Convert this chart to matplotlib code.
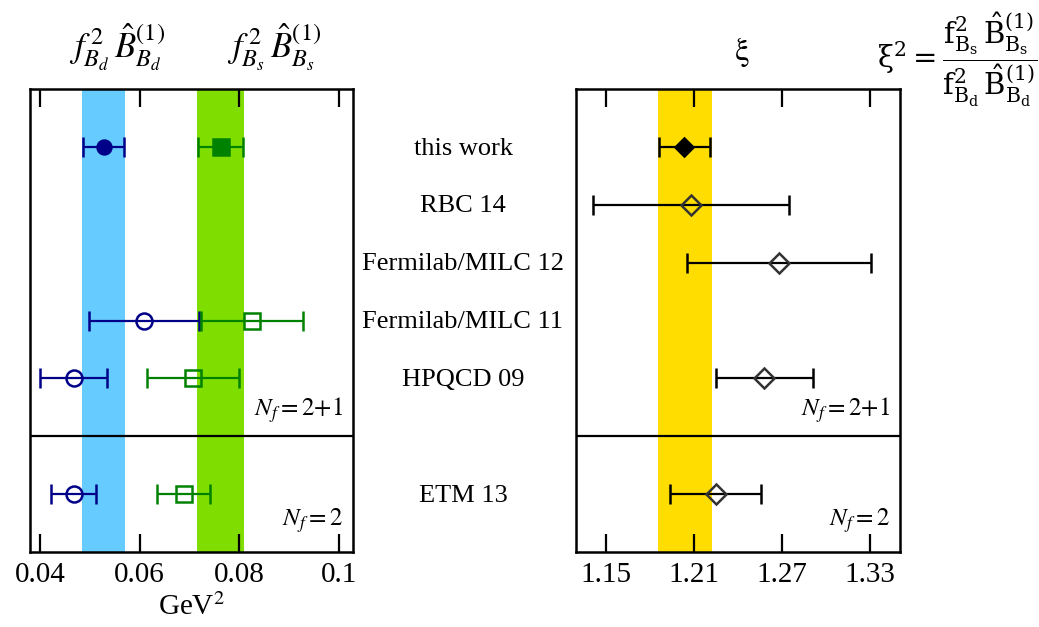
import matplotlib
matplotlib.use("Agg")
import matplotlib.pyplot as plt
from matplotlib.transforms import blended_transform_factory

plt.rcParams["font.family"] = ["Liberation Serif", "DejaVu Serif"]
plt.rcParams["mathtext.fontset"] = "stix"

# Collaborations, top to bottom (row 5 holds the Nf separator)
labels = ["this work", "RBC 14", "Fermilab/MILC 12", "Fermilab/MILC 11", "HPQCD 09", "ETM 13"]
label_rows = [0, 1, 2, 3, 4, 6]

# f_Bd^2 B_Bd^(1)  [GeV^2]: this work, Fermilab/MILC 11, HPQCD 09, ETM 13
bd_rows = [0, 3, 4, 6]
bd_val = [0.0528, 0.0609, 0.0468, 0.0468]
bd_err = [0.0041, 0.0110, 0.0067, 0.0045]

# f_Bs^2 B_Bs^(1)  [GeV^2]
bs_rows = [0, 3, 4, 6]
bs_val = [0.0763, 0.0826, 0.0707, 0.0688]
bs_err = [0.0045, 0.0102, 0.0092, 0.0053]

# xi: this work, RBC 14, Fermilab/MILC 12, HPQCD 09, ETM 13
xi_rows = [0, 1, 2, 4, 6]
xi_val = [1.2035, 1.208, 1.268, 1.258, 1.225]
xi_err = [0.0176, 0.067, 0.063, 0.033, 0.031]

# bands from this work (value, half-width)
bd_band = (0.0528, 0.0043)
bs_band = (0.0763, 0.0047)
xi_band = (1.2038, 0.0184)

left_ticks = [0.04, 0.06, 0.08, 0.1]
left_ticklabels = ["0.04", "0.06", "0.08", "0.1"]
right_ticks = [1.15, 1.21, 1.27, 1.33]
right_ticklabels = ["1.15", "1.21", "1.27", "1.33"]

W, H = 1039, 627
fig = plt.figure(figsize=(W / 100, H / 100), dpi=100)
fig.patch.set_facecolor("white")

ax1 = fig.add_axes([30 / W, 1 - 552 / H, 323 / W, 463 / H])
ax2 = fig.add_axes([576 / W, 1 - 552 / H, 324 / W, 463 / H])

blue = "#000088"
green = "#008200"
sep_row = 5

for ax in (ax1, ax2):
    ax.set_ylim(7, -1)
    ax.set_yticks([])
    ax.axhline(sep_row, color="black", lw=1.6, zorder=1)
    for s in ax.spines.values():
        s.set_linewidth(1.8)
    ax.tick_params(axis="x", which="both", direction="in", top=True, bottom=True,
                   length=13, width=1.6, labelsize=21, pad=7)

# left panel
ax1.set_xlim(0.038, 0.1028)
ax1.axvspan(bd_band[0] - bd_band[1], bd_band[0] + bd_band[1], color="#66ccff", lw=0, zorder=0)
ax1.axvspan(bs_band[0] - bs_band[1], bs_band[0] + bs_band[1], color="#80dd00", lw=0, zorder=0)

for i, (y, v, e) in enumerate(zip(bd_rows, bd_val, bd_err)):
    filled = i == 0
    ax1.errorbar(v, y, xerr=e, fmt="o", color=blue, ms=10 if filled else 11.5,
                 mfc=blue if filled else "none", mec=blue, mew=1.8,
                 elinewidth=1.6, capsize=7, capthick=1.6, zorder=3)
for i, (y, v, e) in enumerate(zip(bs_rows, bs_val, bs_err)):
    filled = i == 0
    ax1.errorbar(v, y, xerr=e, fmt="s", color=green, ms=11.5,
                 mfc=green if filled else "none", mec=green, mew=1.8,
                 elinewidth=1.6, capsize=7, capthick=1.6, zorder=3)

ax1.set_xticks(left_ticks)
ax1.set_xticklabels(left_ticklabels)
ax1.set_xlabel("GeV$^2$", fontsize=21, labelpad=4)

# right panel
ax2.set_xlim(1.1296, 1.3505)
ax2.axvspan(xi_band[0] - xi_band[1], xi_band[0] + xi_band[1], color="#ffdd00", lw=0, zorder=0)
for i, (y, v, e) in enumerate(zip(xi_rows, xi_val, xi_err)):
    filled = i == 0
    ax2.errorbar(v, y, xerr=e, fmt="D", color="black", ms=9 if filled else 10,
                 mfc="black" if filled else "none", mec="black" if filled else "#333333",
                 mew=1.8, elinewidth=1.6, capsize=7, capthick=1.6, zorder=3)
ax2.set_xticks(right_ticks)
ax2.set_xticklabels(right_ticklabels)

# Nf annotations
for ax in (ax1, ax2):
    tr_ax = blended_transform_factory(ax.transAxes, ax.transData)
    ax.text(0.97, 4.55, r"$N_f = 2{+}1$", transform=tr_ax, ha="right", va="center", fontsize=18)
    ax.text(0.97, 6.45, r"$N_f = 2$", transform=tr_ax, ha="right", va="center", fontsize=18)

# collaboration names between the panels
tr = blended_transform_factory(fig.transFigure, ax1.transData)
for name, y in zip(labels, label_rows):
    fig.text(463 / W, y + 0.03, name, transform=tr, ha="center", va="center", fontsize=19)

# column headings
fig.text(117 / W, 1 - 47 / H, r"$f^{\,2}_{B_d}\,\hat{B}^{(1)}_{B_d}$", ha="center", va="center", fontsize=25)
fig.text(274 / W, 1 - 47 / H, r"$f^{\,2}_{B_s}\,\hat{B}^{(1)}_{B_s}$", ha="center", va="center", fontsize=25)
fig.text(742 / W, 1 - 52 / H, r"$\mathrm{\xi}$", ha="center", va="center", fontsize=24)

# definition of xi
fig.text(1037 / W, 1 - 60 / H,
         r"$\mathrm{\xi}^2 = \dfrac{\mathrm{f}^2_{\mathrm{B_s}}\,\hat{\mathrm{B}}^{(1)}_{\mathrm{B_s}}}"
         r"{\mathrm{f}^2_{\mathrm{B_d}}\,\hat{\mathrm{B}}^{(1)}_{\mathrm{B_d}}}$",
         ha="right", va="center", fontsize=21, math_fontfamily="dejavuserif")

fig.savefig("out.png", dpi=100, facecolor="white")
